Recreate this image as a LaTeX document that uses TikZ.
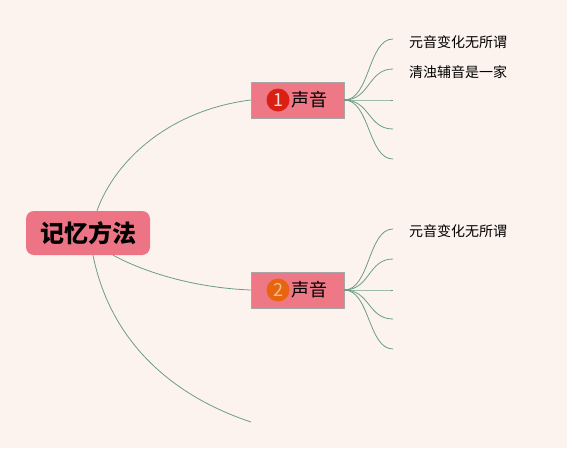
\documentclass[tikz,border=0pt]{standalone}
\usepackage{fontspec}
\newfontfamily\cjk{Noto Sans CJK SC}
\definecolor{bgpeach}{HTML}{FDF3EE}
\definecolor{nodepink}{HTML}{EE7886}
\definecolor{rootpink}{HTML}{EC7484}
\definecolor{branchgreen}{HTML}{6A9E82}
\definecolor{markred}{HTML}{DA2012}
\definecolor{markorange}{HTML}{E7650F}
\begin{document}
\begin{tikzpicture}[x=1pt, y=-1pt,
    rootbox/.style={fill=rootpink, rounded corners=8pt, minimum width=124pt, minimum height=44pt, inner sep=0pt, font=\cjk\bfseries\fontsize{24}{24}\selectfont},
    topic/.style={fill=nodepink, draw=gray!70, minimum width=93pt, minimum height=36pt, inner sep=0pt, font=\cjk\fontsize{18}{18}\selectfont},
    marker/.style={circle, minimum size=23pt, inner sep=0pt, font=\cjk\fontsize{18}{18}\selectfont},
    leaf/.style={anchor=west, inner sep=0pt, font=\cjk\fontsize{14}{14}\selectfont},
    branch/.style={draw=branchgreen, line width=0.8pt}]
    \fill[bgpeach] (0,0) rectangle (567,448);
    \useasboundingbox (0,0) rectangle (567,448);
    \node[rootbox] (root) at (88,233) {记忆方法};
    \node[topic] (sound1) at (297.5,100) {\hspace{24pt}声音};
    \node[topic] (sound2) at (297.5,290) {\hspace{24pt}声音};
    \node[marker, fill=markred, text=white!85!markred] (mark1) at (278,100) {1};
    \node[marker, fill=markorange, text=white!55!markorange] (mark2) at (278,290) {2};
    \coordinate (tail) at (251,422);
    % root to topics
    \draw[branch] ([xshift=9pt]root.north) .. controls (115,160) and (170,110) .. (sound1.west);
    \draw[branch] ([xshift=25pt]root.south) .. controls (150,275) and (200,288) .. (sound2.west);
    \draw[branch] ([xshift=5pt]root.south) .. controls (110,340) and (170,395) .. (tail);
    % branch ends
    \foreach \dy [count=\i] in {-61,-31,0,29,59} {
      \coordinate (end1\i) at (393,100+\dy);
      \coordinate (end2\i) at (393,290+\dy);
      \draw[branch] (sound1.east) .. controls (370,100) and (368,100+\dy) .. (end1\i);
      \draw[branch] (sound2.east) .. controls (370,290) and (368,290+\dy) .. (end2\i);
    }
    \node[leaf] (vowel1) at (409,42) {元音变化无所谓};
    \node[leaf] (voicing1) at (409,72) {清浊辅音是一家};
    \node[leaf] (vowel2) at (409,231) {元音变化无所谓};
\end{tikzpicture}
\end{document}
